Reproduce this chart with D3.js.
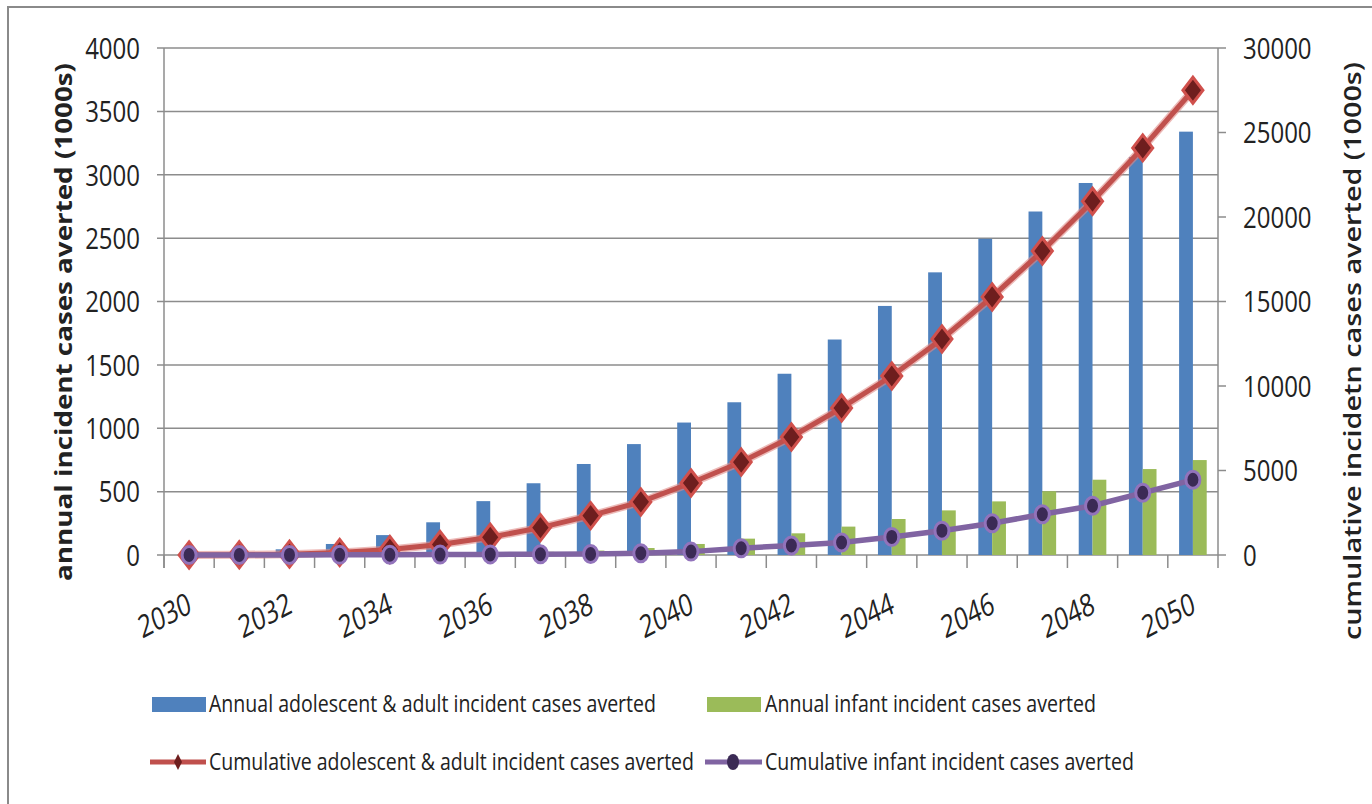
<!DOCTYPE html>
<html>
<head>
<meta charset="utf-8">
<script src="https://cdn.jsdelivr.net/npm/d3@7"></script>
<style>
  body { margin: 0; background: #fff; }
  text { font-family: "Open Sans", sans-serif; fill: #222; }
</style>
</head>
<body>
<script>
// data (values in 1000s)
var years = ["2030","2031","2032","2033","2034","2035","2036","2037","2038","2039","2040",
             "2041","2042","2043","2044","2045","2046","2047","2048","2049","2050"];
var annualAdult  = [0, 5, 45, 87, 157, 258, 425, 566, 718, 875, 1045, 1205, 1430, 1700, 1965, 2230, 2495, 2710, 2935, 3140, 3340];
var annualInfant = [0, 1, 3, 5, 8, 12, 18, 25, 35, 55, 87, 129, 171, 224, 284, 352, 423, 503, 594, 678, 749];
var cumAdult     = [0, 10, 50, 150, 330, 620, 1050, 1620, 2330, 3140, 4260, 5500, 6980, 8700, 10590, 12780, 15270, 17990, 20930, 24090, 27500];
var cumInfant    = [0, 2, 5, 10, 16, 25, 35, 45, 60, 100, 200, 400, 560, 740, 1070, 1440, 1880, 2410, 2915, 3680, 4450];
var leftTicks  = [0, 500, 1000, 1500, 2000, 2500, 3000, 3500, 4000];
var rightTicks = [0, 5000, 10000, 15000, 20000, 25000, 30000];
var xLabels = ["2030","2032","2034","2036","2038","2040","2042","2044","2046","2048","2050"];

var W = 1372, H = 804;
var plotLeft = 164, plotRight = 1218, plotTop = 48, plotBottom = 555;

var svg = d3.select("body").append("svg")
    .attr("width", W).attr("height", H);

// outer border
svg.append("rect")
    .attr("x", 8).attr("y", 7).attr("width", 1420).attr("height", 900)
    .attr("fill", "none").attr("stroke", "#8a8a8a").attr("stroke-width", 2);

var x = d3.scaleBand().domain(years).range([plotLeft, plotRight]).padding(0);
var bw = x.bandwidth();
var x1 = d3.scaleBand().domain(["adult", "infant"]).range([bw * 0.225, bw * 0.775]);
var yL = d3.scaleLinear().domain([0, 4000]).range([plotBottom, plotTop]);
var yR = d3.scaleLinear().domain([0, 30000]).range([plotBottom, plotTop]);

// gridlines
svg.append("g").selectAll("line").data(leftTicks).enter().append("line")
    .attr("x1", plotLeft - 7).attr("x2", plotRight)
    .attr("y1", d => yL(d)).attr("y2", d => yL(d))
    .attr("stroke", "#8c8c8c").attr("stroke-width", 1.5);

// axis lines
svg.append("line").attr("x1", plotLeft).attr("x2", plotLeft).attr("y1", plotTop).attr("y2", plotBottom + 13)
    .attr("stroke", "#8c8c8c").attr("stroke-width", 1.5);
svg.append("line").attr("x1", plotRight).attr("x2", plotRight).attr("y1", plotTop).attr("y2", plotBottom + 13)
    .attr("stroke", "#8c8c8c").attr("stroke-width", 1.5);
svg.append("g").selectAll("line").data(rightTicks).enter().append("line")
    .attr("x1", plotRight).attr("x2", plotRight + 8)
    .attr("y1", d => yR(d)).attr("y2", d => yR(d))
    .attr("stroke", "#8c8c8c").attr("stroke-width", 1.5);
// category tick marks
svg.append("g").selectAll("line").data(years).enter().append("line")
    .attr("x1", d => x(d)).attr("x2", d => x(d))
    .attr("y1", plotBottom).attr("y2", plotBottom + 13)
    .attr("stroke", "#8c8c8c").attr("stroke-width", 1.5);

// tick labels
svg.append("g").selectAll("text").data(leftTicks).enter().append("text")
    .attr("transform", d => "translate(140," + yL(d) + ") scale(0.8,1)")
    .attr("dy", "0.36em").attr("text-anchor", "end")
    .attr("font-size", 30).text(d => d);
svg.append("g").selectAll("text").data(rightTicks).enter().append("text")
    .attr("transform", d => "translate(1243," + yR(d) + ") scale(0.8,1)")
    .attr("dy", "0.36em").attr("text-anchor", "start")
    .attr("font-size", 30).text(d => d);
svg.append("g").selectAll("text").data(xLabels).enter().append("text")
    .attr("transform", d => "translate(" + (x(d) + bw / 2 + 4) + ",612) scale(1,1.3) rotate(-22)")
    .attr("text-anchor", "end")
    .attr("font-size", 24).text(d => d);

// axis titles
svg.append("text")
    .attr("transform", "translate(72,322) rotate(-90)")
    .attr("text-anchor", "middle").attr("font-size", 23).attr("font-weight", "bold")
    .attr("textLength", 518).attr("lengthAdjust", "spacingAndGlyphs")
    .text("annual incident cases averted (1000s)");
svg.append("text")
    .attr("transform", "translate(1361,351) rotate(-90)")
    .attr("text-anchor", "middle").attr("font-size", 23).attr("font-weight", 600)
    .attr("textLength", 578).attr("lengthAdjust", "spacingAndGlyphs")
    .text("cumulative incidetn cases averted (1000s)");

// bars
var blue = "#4F81BD", green = "#9BBB59", red = "#C0504D", purple = "#8064A2";
svg.append("g").selectAll("rect").data(years).enter().append("rect")
    .attr("x", d => x(d) + x1("adult")).attr("width", x1.bandwidth())
    .attr("y", (d, i) => yL(annualAdult[i]))
    .attr("height", (d, i) => plotBottom - yL(annualAdult[i]))
    .attr("fill", blue);
svg.append("g").selectAll("rect").data(years).enter().append("rect")
    .attr("x", d => x(d) + x1("infant")).attr("width", x1.bandwidth())
    .attr("y", (d, i) => yL(annualInfant[i]))
    .attr("height", (d, i) => plotBottom - yL(annualInfant[i]))
    .attr("fill", green);

// lines
var cx = d => x(d) + bw / 2;
var line = d3.line().x(d => cx(d.year)).y(d => yR(d.v));
var redPts = years.map((d, i) => ({year: d, v: cumAdult[i]}));
var purPts = years.map((d, i) => ({year: d, v: cumInfant[i]}));

function diamond(w, h) {
  return "M0," + (-h) + "L" + w + ",0L0," + h + "L" + (-w) + ",0Z";
}

svg.append("path").datum(redPts).attr("d", line)
    .attr("fill", "none").attr("stroke", "#e08a87").attr("stroke-width", 8).attr("opacity", 0.6);
svg.append("path").datum(redPts).attr("d", line)
    .attr("fill", "none").attr("stroke", red).attr("stroke-width", 5);
svg.append("g").selectAll("path").data(redPts).enter().append("path")
    .attr("transform", d => "translate(" + cx(d.year) + "," + yR(d.v) + ")")
    .attr("d", diamond(10, 13))
    .attr("fill", "#6e1e1e").attr("stroke", "#d0504c").attr("stroke-width", 3);

svg.append("path").datum(purPts).attr("d", line)
    .attr("fill", "none").attr("stroke", purple).attr("stroke-width", 5.5);
svg.append("g").selectAll("ellipse").data(purPts).enter().append("ellipse")
    .attr("cx", d => cx(d.year)).attr("cy", d => yR(d.v))
    .attr("rx", 7).attr("ry", 8.5)
    .attr("fill", "#3b2a55").attr("stroke", "#9273bb").attr("stroke-width", 3);

// legend
var leg = svg.append("g");
leg.append("rect").attr("x", 152).attr("y", 697).attr("width", 54).attr("height", 15).attr("fill", blue);
leg.append("rect").attr("x", 707).attr("y", 697).attr("width", 54).attr("height", 15).attr("fill", green);
leg.append("line").attr("x1", 150).attr("x2", 206).attr("y1", 762).attr("y2", 762)
    .attr("stroke", red).attr("stroke-width", 5);
leg.append("path").attr("transform", "translate(178,762)").attr("d", diamond(4, 8))
    .attr("fill", "#6e1e1e");
leg.append("line").attr("x1", 705).attr("x2", 762).attr("y1", 762).attr("y2", 762)
    .attr("stroke", purple).attr("stroke-width", 5);
leg.append("ellipse").attr("cx", 733).attr("cy", 762).attr("rx", 6).attr("ry", 8)
    .attr("fill", "#3b2a55");

var legText = [
  {x: 209, y: 712, w: 447, t: "Annual adolescent & adult incident cases averted"},
  {x: 765, y: 712, w: 331, t: "Annual infant incident cases averted"},
  {x: 209, y: 770, w: 485, t: "Cumulative adolescent & adult incident cases averted"},
  {x: 765, y: 770, w: 369, t: "Cumulative infant incident cases averted"}
];
leg.selectAll("text").data(legText).enter().append("text")
    .attr("x", d => d.x).attr("y", d => d.y)
    .attr("font-size", 23)
    .attr("textLength", d => d.w).attr("lengthAdjust", "spacingAndGlyphs")
    .text(d => d.t);
</script>
</body>
</html>
